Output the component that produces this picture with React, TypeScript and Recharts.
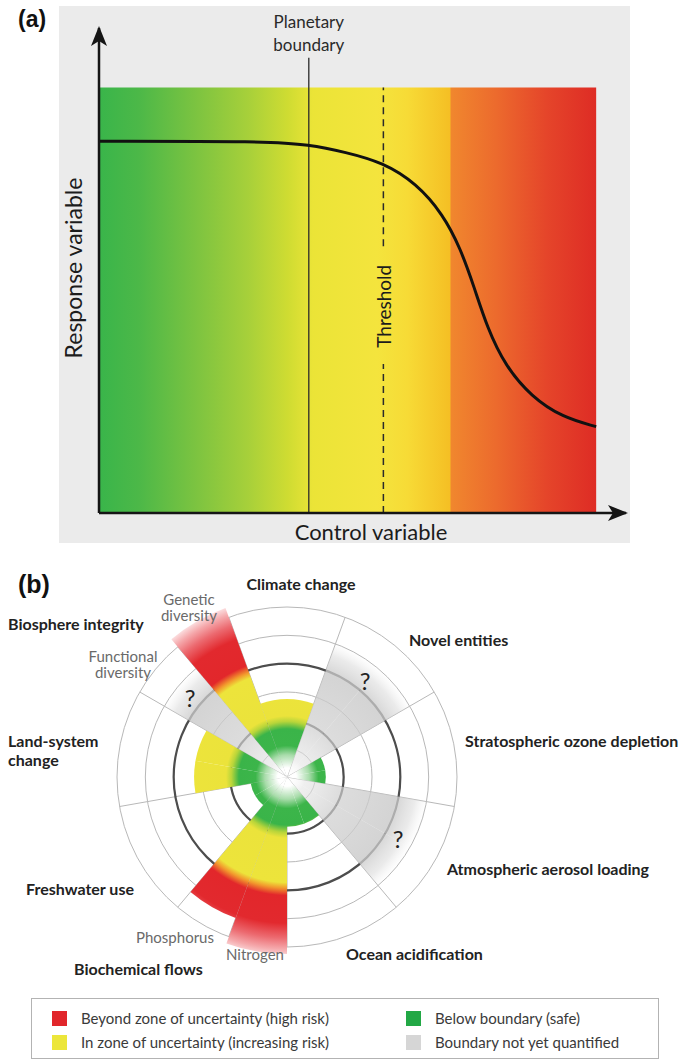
import React from 'react'
import {
  ComposedChart, Line, XAxis, YAxis, ReferenceArea, ReferenceLine, ReferenceDot,
  RadialBarChart, RadialBar, PolarGrid, PolarAngleAxis, PolarRadiusAxis, Cell,
} from 'recharts'

// ---- panel (a): response vs control variable ----
const controlX = [0, 3.35, 4.22, 4.96, 5.71, 6.38, 6.92, 7.27, 7.54, 7.81, 8.17, 8.7, 9.32, 10]
const responseY = [8.74, 8.74, 8.66, 8.48, 8.24, 7.75, 7.02, 6.22, 5.33, 4.35, 3.46, 2.73, 2.25, 2.03]
const planetaryBoundaryX = 4.22
const thresholdX = 5.72
const zoneMax = 10
const X_MAX = 10.6
const Y_MAX = 11.4

// ---- panel (b): planetary boundaries ----
const boundaries = [
  'Climate change', 'Novel entities', 'Stratospheric ozone depletion', 'Atmospheric aerosol loading',
  'Ocean acidification', 'Nitrogen', 'Phosphorus', 'Freshwater use', 'Land-system change',
  'Functional diversity', 'Genetic diversity',
]
const boundarySlots = [2, 2, 2, 2, 2, 1, 1, 2, 2, 1, 1] // 20 degree slots
const boundaryExtent = [2.75, 5.0, 1.37, 5.0, 1.76, 6.25, 5.3, 1.3, 3.28, 5.0, 6.35]
const quantified = [true, false, true, false, true, true, true, true, true, false, true]
const gridRings = [1, 2, 3, 4, 5, 6]
const boundaryRings = [2, 4]

const legendItems = [
  { label: 'Beyond zone of uncertainty (high risk)', color: '#e1262b' },
  { label: 'In zone of uncertainty (increasing risk)', color: '#ece63a' },
  { label: 'Below boundary (safe)', color: '#22a845' },
  { label: 'Boundary not yet quantified', color: '#d6d6d6' },
]

const curve = controlX.map((x, i) => ({ x, y: responseY[i] }))

const rose: { slot: string; value: number; known: boolean }[] = []
boundaries.forEach((name, i) => {
  for (let s = 0; s < boundarySlots[i]; s++) {
    rose.push({ slot: `${name}-${s}`, value: boundaryExtent[i], known: quantified[i] })
  }
})

const CX = 287
const CY = 232
const OUTER_R = 170
const R_MAX = 6
const START = 110 // compass -20deg, left edge of Climate change
const SLOT_DEG = 20
const GRAD_R = 185

const spokeAngles: number[] = []
let cum = 0
boundarySlots.forEach(n => {
  spokeAngles.push(START - cum * SLOT_DEG)
  cum += n
})

const FONT = 'Lato, "Open Sans", sans-serif'

const centeredText = (text: string, size: number, angle = 0, dx = 0, dy = 0) => (props: any) => {
  const vb = props.viewBox || { x: 0, y: 0, width: 0, height: 0 }
  const x = vb.x + (vb.width || 0) / 2 + dx
  const y = vb.y + (vb.height || 0) / 2 + dy
  return (
    <text x={x} y={y} textAnchor="middle" dominantBaseline="central" fontSize={size} fill="#1c1c1c"
      fontFamily={FONT} transform={angle ? `rotate(${angle} ${x} ${y})` : undefined}>
      {text}
    </text>
  )
}

const stackedText = (lines: string[], size: number, gap: number) => (props: any) => {
  const vb = props.viewBox || { x: 0, y: 0, width: 0, height: 0 }
  const x = vb.x + (vb.width || 0) / 2
  const y = vb.y + (vb.height || 0) / 2
  return (
    <text textAnchor="middle" dominantBaseline="central" fontSize={size} fill="#2a2a2a" fontFamily={FONT}>
      {lines.map((l, i) => (
        <tspan key={i} x={x} y={y + (i - (lines.length - 1) / 2) * gap}>{l}</tspan>
      ))}
    </text>
  )
}

type Lbl = { lines: string[]; x: number; y: number; anchor: 'start' | 'middle' | 'end'; kind: 'main' | 'sub' | 'q' }
const roseLabels: Lbl[] = [
  { lines: ['Climate change'], x: 301, y: 583, anchor: 'middle', kind: 'main' },
  { lines: ['Novel entities'], x: 409, y: 639, anchor: 'start', kind: 'main' },
  { lines: ['Stratospheric ozone depletion'], x: 465, y: 740, anchor: 'start', kind: 'main' },
  { lines: ['Atmospheric aerosol loading'], x: 447, y: 868, anchor: 'start', kind: 'main' },
  { lines: ['Ocean acidification'], x: 346, y: 953, anchor: 'start', kind: 'main' },
  { lines: ['Biochemical flows'], x: 74, y: 968, anchor: 'start', kind: 'main' },
  { lines: ['Freshwater use'], x: 26, y: 888, anchor: 'start', kind: 'main' },
  { lines: ['Land-system', 'change'], x: 8, y: 749.5, anchor: 'start', kind: 'main' },
  { lines: ['Biosphere integrity'], x: 8, y: 623, anchor: 'start', kind: 'main' },
  { lines: ['Genetic', 'diversity'], x: 189, y: 607, anchor: 'middle', kind: 'sub' },
  { lines: ['Functional', 'diversity'], x: 123, y: 663.5, anchor: 'middle', kind: 'sub' },
  { lines: ['Phosphorus'], x: 175, y: 937, anchor: 'middle', kind: 'sub' },
  { lines: ['Nitrogen'], x: 255, y: 954, anchor: 'middle', kind: 'sub' },
  { lines: ['?'], x: 365, y: 680, anchor: 'middle', kind: 'q' },
  { lines: ['?'], x: 398, y: 838, anchor: 'middle', kind: 'q' },
  { lines: ['?'], x: 190, y: 697, anchor: 'middle', kind: 'q' },
]

export default function App() {
  return (
    <div style={{ position: 'absolute', left: 0, top: 0, width: 691, height: 1060, background: '#fff', fontFamily: FONT }}>
      {/* panel (a) */}
      <div style={{ position: 'absolute', left: 59, top: 6, width: 571, height: 537, background: '#ebebeb' }}>
        <ComposedChart width={571} height={537} data={curve} margin={{ top: 22, right: 4, bottom: 0, left: 0 }}
          style={{ overflow: 'visible' }}>
          <defs>
            <linearGradient id="zoneGrad" x1="0" y1="0" x2="1" y2="0">
              <stop offset="0" stopColor="#39b54a" />
              <stop offset="0.08" stopColor="#4cb848" />
              <stop offset="0.2" stopColor="#7ec440" />
              <stop offset="0.3" stopColor="#a7d03a" />
              <stop offset="0.38" stopColor="#cfdc32" />
              <stop offset="0.43" stopColor="#ebe437" />
              <stop offset="0.56" stopColor="#f4e43d" />
              <stop offset="0.62" stopColor="#f7db36" />
              <stop offset="0.706" stopColor="#f5bf24" />
              <stop offset="0.708" stopColor="#f0872e" />
              <stop offset="0.8" stopColor="#ec6a2d" />
              <stop offset="0.9" stopColor="#e5452a" />
              <stop offset="1" stopColor="#de2c25" />
            </linearGradient>
            <marker id="axisArrow" viewBox="0 0 20 16" refX="18" refY="8" markerWidth="20" markerHeight="16"
              markerUnits="userSpaceOnUse" orient="auto-start-reverse">
              <path d="M0,0 L20,8 L0,16 L5,8 Z" fill="#151515" />
            </marker>
          </defs>
          <ReferenceArea x1={0} x2={zoneMax} y1={0} y2={zoneMax} fill="url(#zoneGrad)" fillOpacity={1} stroke="none" ifOverflow="visible" />
          <XAxis type="number" dataKey="x" domain={[0, X_MAX]} allowDataOverflow height={30} tick={false} tickLine={false}
            axisLine={{ stroke: '#151515', strokeWidth: 2.5, markerEnd: 'url(#axisArrow)' }}
            label={centeredText('Control variable', 22, 0, 8.5, 3)} />
          <YAxis type="number" domain={[0, Y_MAX]} allowDataOverflow width={40} tick={false} tickLine={false}
            axisLine={{ stroke: '#151515', strokeWidth: 2.5, markerStart: 'url(#axisArrow)' }}
            label={centeredText('Response variable', 23, -90, -6, -2.5)} />
          <ReferenceLine segment={[{ x: planetaryBoundaryX, y: 0 }, { x: planetaryBoundaryX, y: 10.7 }]} stroke="#2a2a2a" strokeWidth={1.3} />
          <ReferenceLine segment={[{ x: thresholdX, y: 0 }, { x: thresholdX, y: 3.5 }]} stroke="#2a2a2a" strokeWidth={1.5} strokeDasharray="7 5" />
          <ReferenceLine segment={[{ x: thresholdX, y: 6.27 }, { x: thresholdX, y: zoneMax }]} stroke="#2a2a2a" strokeWidth={1.5} strokeDasharray="7 5" />
          <ReferenceDot x={thresholdX} y={4.86} r={0} label={centeredText('Threshold', 19, -90)} />
          <ReferenceDot x={planetaryBoundaryX} y={11.3} r={0} label={stackedText(['Planetary', 'boundary'], 17, 23)} />
          <Line type="basis" dataKey="y" stroke="#111" strokeWidth={3} dot={false} activeDot={false} isAnimationActive={false} />
        </ComposedChart>
      </div>

      {/* panel (b) */}
      <div style={{ position: 'absolute', left: 0, top: 545, width: 691, height: 450 }}>
        <RadialBarChart width={691} height={450} data={rose} cx={CX} cy={CY} innerRadius={0} outerRadius={OUTER_R}
          startAngle={START - SLOT_DEG} endAngle={START - SLOT_DEG - 360} layout="centric" barCategoryGap={0} barGap={0}
          margin={{ top: 0, right: 0, bottom: 0, left: 0 }}>
          <defs>
            <radialGradient id="riskGrad" gradientUnits="userSpaceOnUse" cx={CX} cy={CY} r={GRAD_R}>
              <stop offset="0" stopColor="#ffffff" />
              <stop offset="0.05" stopColor="#ffffff" />
              <stop offset="0.12" stopColor="#a8dcaa" />
              <stop offset="0.17" stopColor="#3cb54a" />
              <stop offset="0.26" stopColor="#3ab449" />
              <stop offset="0.3" stopColor="#b8d53a" />
              <stop offset="0.33" stopColor="#ebe33b" />
              <stop offset="0.57" stopColor="#ede43b" />
              <stop offset="0.6" stopColor="#f29a2d" />
              <stop offset="0.64" stopColor="#e2272b" />
              <stop offset="0.79" stopColor="#e2292e" />
              <stop offset="0.87" stopColor="#ec6a70" />
              <stop offset="0.93" stopColor="#f5a9ac" />
              <stop offset="1" stopColor="#ffffff" />
            </radialGradient>
            <radialGradient id="unknownGrad" gradientUnits="userSpaceOnUse" cx={CX} cy={CY} r={GRAD_R}>
              <stop offset="0" stopColor="#ffffff" stopOpacity={0} />
              <stop offset="0.1" stopColor="#e2e2e2" stopOpacity={0.55} />
              <stop offset="0.3" stopColor="#cecece" stopOpacity={0.7} />
              <stop offset="0.6" stopColor="#c9c9c9" stopOpacity={0.8} />
              <stop offset="0.7" stopColor="#d6d6d6" stopOpacity={0.5} />
              <stop offset="0.77" stopColor="#e8e8e8" stopOpacity={0} />
            </radialGradient>
          </defs>
          <PolarGrid gridType="circle" polarAngles={spokeAngles}
            polarRadius={gridRings.map(v => (v / R_MAX) * OUTER_R)} stroke="#b8b8b8" strokeWidth={1} />
          <PolarGrid gridType="circle" radialLines={false}
            polarRadius={boundaryRings.map(v => (v / R_MAX) * OUTER_R)} stroke="#4d4d4d" strokeWidth={2.2} />
          <PolarAngleAxis type="category" dataKey="slot" tick={false} tickLine={false} axisLine={false} />
          <PolarRadiusAxis type="number" domain={[0, R_MAX]} allowDataOverflow tick={false} tickLine={false} axisLine={false} />
          <RadialBar dataKey="value" isAnimationActive={false}>
            {rose.map((d, i) => (
              <Cell key={i} fill={d.known ? 'url(#riskGrad)' : 'url(#unknownGrad)'} stroke="none" />
            ))}
          </RadialBar>
        </RadialBarChart>
      </div>

      {/* labels */}
      <svg width={691} height={1060} style={{ position: 'absolute', left: 0, top: 0, pointerEvents: 'none' }}>
        <text x={18} y={27} fontSize={23} fontWeight="bold" fontFamily='"Liberation Sans", Arial, sans-serif' fill="#111">(a)</text>
        <text x={18} y={593} fontSize={25} fontWeight="bold" fontFamily='"Liberation Sans", Arial, sans-serif' fill="#111">(b)</text>
        {roseLabels.map((l, i) => {
          const size = l.kind === 'main' ? 16 : l.kind === 'sub' ? 15 : 24
          const gap = l.kind === 'main' ? 19 : 16
          return (
            <text key={i} textAnchor={l.anchor} dominantBaseline="central" fontFamily={FONT}
              fontWeight={l.kind === 'main' ? 'bold' : 'normal'} fontSize={size}
              fill={l.kind === 'sub' ? '#6a6a6a' : '#222'}>
              {l.lines.map((s, j) => (
                <tspan key={j} x={l.x} y={l.y + (j - (l.lines.length - 1) / 2) * gap}>{s}</tspan>
              ))}
            </text>
          )
        })}
      </svg>

      {/* legend */}
      <div style={{ position: 'absolute', left: 31, top: 998, width: 628, height: 61, boxSizing: 'border-box', border: '1px solid #b3b3b3', background: '#fff' }}>
        {legendItems.map((it, i) => (
          <div key={i} style={{ position: 'absolute', left: i < 2 ? 20 : 374, top: i % 2 === 0 ? 11 : 35, height: 16, display: 'flex', alignItems: 'center', whiteSpace: 'nowrap' }}>
            <span style={{ display: 'inline-block', width: 15, height: 15, background: it.color, marginRight: 14 }} />
            <span style={{ fontSize: 15, color: '#3a3a3a', fontFamily: FONT }}>{it.label}</span>
          </div>
        ))}
      </div>
    </div>
  )
}
